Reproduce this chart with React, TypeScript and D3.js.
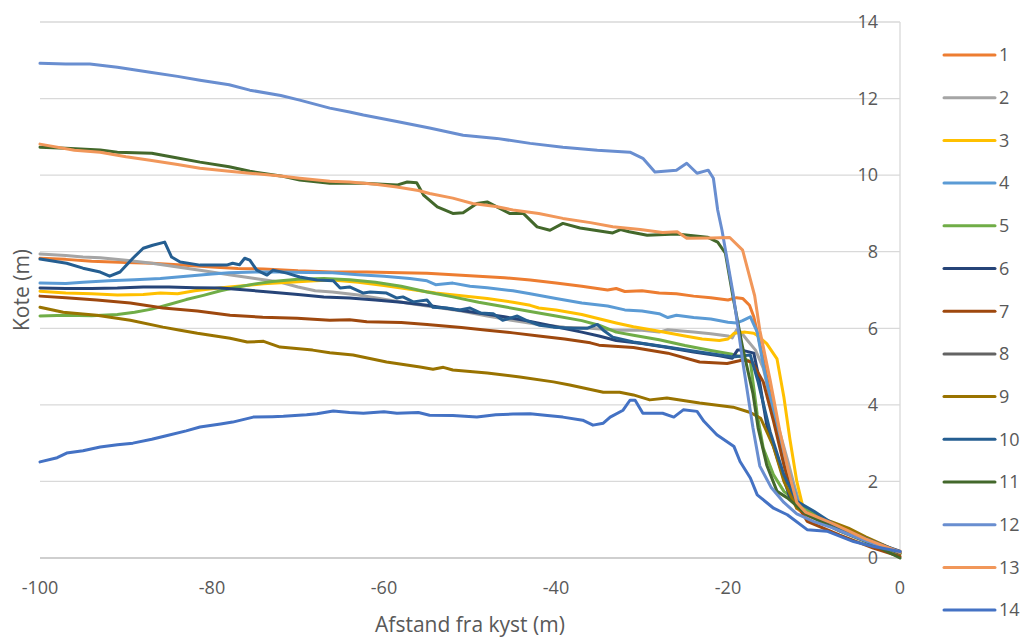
import React from "react";
import * as d3 from "d3";

// Terrain profiles: distance from coast (m) vs. elevation (m)
type Pt = [number, number];

const profile1: Pt[] = [[-100,7.83],[-97,7.8],[-94,7.75],[-90,7.72],[-87,7.7],[-84,7.66],[-80,7.6],[-77,7.56],[-74,7.55],[-70,7.5],[-66,7.47],[-62,7.47],[-58,7.45],[-55,7.44],[-52,7.4],[-49,7.36],[-46,7.32],[-43,7.26],[-40,7.18],[-37,7.1],[-34,7.0],[-33,7.04],[-32,6.96],[-30,6.98],[-28,6.92],[-26,6.9],[-24,6.84],[-22,6.8],[-20,6.74],[-19,6.8],[-18.3,6.78],[-17.5,6.6],[-17,6.3],[-16,5.3],[-15,4.2],[-14,3.0],[-13,2.0],[-12,1.3],[-11,1.12],[-9,0.95],[-7,0.78],[-5,0.6],[-3,0.42],[-1,0.25],[0,0.18]];
const profile2: Pt[] = [[-100,7.94],[-97,7.9],[-95,7.86],[-93,7.84],[-90,7.78],[-87,7.7],[-84,7.6],[-81,7.5],[-78,7.4],[-75,7.3],[-72,7.2],[-70,7.08],[-68,6.98],[-66,6.95],[-63,6.87],[-60,6.76],[-57,6.65],[-54,6.55],[-51,6.45],[-48,6.32],[-45,6.2],[-42,6.1],[-39,6.03],[-36,6.0],[-33,5.95],[-30,5.95],[-28,5.9],[-27,5.96],[-24,5.9],[-22,5.86],[-20,5.8],[-19.5,5.75],[-19,5.96],[-18.5,5.9],[-17.8,5.7],[-16.8,5.43],[-15.9,4.96],[-15,4.1],[-14,3.3],[-13,2.5],[-12.3,1.9],[-11.5,1.3],[-10,1.05],[-8,0.88],[-6,0.7],[-4,0.5],[-2,0.3],[0,0.15]];
const profile3: Pt[] = [[-100,6.97],[-97,6.92],[-94,6.9],[-91,6.87],[-88,6.88],[-86,6.92],[-84,6.9],[-82,6.98],[-80,7.03],[-78,7.08],[-76,7.12],[-74,7.16],[-71,7.2],[-68,7.24],[-66,7.26],[-63,7.2],[-60,7.12],[-57,7.02],[-54,6.92],[-51,6.85],[-48,6.78],[-45,6.68],[-43,6.6],[-42,6.53],[-40,6.48],[-37,6.36],[-35,6.25],[-33,6.14],[-31,6.04],[-28,5.92],[-25,5.8],[-23,5.72],[-21,5.68],[-20,5.72],[-19.3,5.87],[-18,5.9],[-17,5.87],[-16.5,5.8],[-15.5,5.6],[-14.3,5.2],[-13.5,4.2],[-12.8,3.1],[-12,2.0],[-11.2,1.25],[-10,1.08],[-8,0.9],[-6,0.72],[-4,0.52],[-2,0.32],[0,0.15]];
const profile4: Pt[] = [[-100,7.18],[-97,7.17],[-95,7.2],[-92,7.24],[-89,7.27],[-86,7.3],[-84,7.34],[-82,7.38],[-80,7.42],[-78,7.45],[-75,7.47],[-72,7.47],[-69,7.46],[-66,7.45],[-63,7.4],[-60,7.36],[-57,7.3],[-55,7.24],[-54,7.14],[-52,7.18],[-50,7.1],[-48,7.06],[-45,6.98],[-43,6.9],[-40,6.78],[-37,6.66],[-34,6.58],[-32,6.48],[-30,6.45],[-28,6.38],[-27,6.28],[-26,6.34],[-24,6.28],[-22,6.24],[-20,6.16],[-19,6.14],[-18.3,6.2],[-17.4,6.3],[-16.6,5.9],[-15.9,5.04],[-14.7,3.74],[-13.1,2.35],[-11.6,1.3],[-10,1.08],[-8,0.9],[-6,0.7],[-4,0.5],[-2,0.3],[0,0.16]];
const profile5: Pt[] = [[-100,6.32],[-97,6.34],[-94,6.33],[-91,6.36],[-89,6.42],[-87,6.5],[-85,6.62],[-83,6.75],[-81,6.86],[-79,6.98],[-77,7.08],[-75,7.16],[-73,7.22],[-70,7.28],[-67,7.3],[-64,7.27],[-61,7.2],[-58,7.1],[-55,6.95],[-52,6.82],[-49,6.68],[-46,6.56],[-43,6.44],[-40,6.32],[-37,6.2],[-35,6.08],[-33,5.9],[-31,5.82],[-28,5.7],[-25,5.55],[-22,5.42],[-19.5,5.32],[-18.5,5.25],[-17.4,5.13],[-16.6,3.74],[-15.9,2.87],[-14.7,2.17],[-13.5,1.74],[-12,1.48],[-10,1.15],[-8,0.92],[-6,0.72],[-4,0.5],[-2,0.28],[0,0.1]];
const profile6: Pt[] = [[-100,7.05],[-97,7.04],[-94,7.04],[-91,7.05],[-88,7.08],[-85,7.08],[-82,7.06],[-79,7.05],[-76,7.0],[-73,6.94],[-70,6.88],[-67,6.82],[-64,6.79],[-61,6.74],[-58,6.68],[-55,6.6],[-52,6.5],[-49,6.4],[-46,6.3],[-43,6.18],[-40,6.04],[-37,5.9],[-35,5.8],[-33,5.68],[-30,5.6],[-27,5.5],[-24,5.38],[-21,5.28],[-19.5,5.22],[-18.9,5.43],[-18.4,5.43],[-17,5.35],[-16.4,4.7],[-15.5,3.48],[-13.9,2.35],[-12.8,1.57],[-10.8,1.13],[-8,0.9],[-6,0.7],[-3,0.38],[0,0.13]];
const profile7: Pt[] = [[-100,6.84],[-97,6.8],[-93.4,6.74],[-89.5,6.66],[-85.7,6.53],[-81.7,6.45],[-77.9,6.34],[-74.1,6.29],[-70.1,6.26],[-66.3,6.21],[-64,6.22],[-62,6.17],[-58,6.15],[-55,6.1],[-51,6.02],[-48,5.95],[-45,5.88],[-42,5.8],[-39,5.72],[-36,5.62],[-35,5.56],[-31,5.5],[-27,5.35],[-23.3,5.12],[-20.1,5.08],[-18.3,5.17],[-17.2,5.12],[-15.9,4.6],[-14.7,3.57],[-13.5,2.43],[-12.4,1.57],[-10.8,0.96],[-7,0.6],[-3.1,0.26],[0,0.04]];
const profile8: Pt[] = [];
const profile9: Pt[] = [[-100,6.55],[-97.3,6.42],[-93.4,6.34],[-89.5,6.21],[-85.7,6.03],[-83.7,5.95],[-81.7,5.87],[-77.9,5.74],[-75.9,5.64],[-74,5.66],[-72.1,5.51],[-68.3,5.43],[-66.3,5.36],[-63.6,5.3],[-59.7,5.12],[-55.8,4.99],[-54.3,4.93],[-53.1,4.98],[-52,4.91],[-48,4.83],[-44.2,4.73],[-40.3,4.6],[-38.4,4.52],[-34.5,4.33],[-32.6,4.33],[-31,4.26],[-29.1,4.13],[-27.1,4.18],[-23.3,4.05],[-19.4,3.94],[-17.4,3.8],[-16.2,3.65],[-14.7,2.9],[-13.5,2.0],[-12,1.3],[-10,1.1],[-8,0.95],[-6,0.78],[-4,0.55],[-2,0.35],[0,0.13]];
const profile10: Pt[] = [[-100,7.81],[-96.9,7.7],[-95,7.57],[-93,7.47],[-91.9,7.36],[-90.7,7.47],[-89.2,7.83],[-88,8.09],[-86.9,8.17],[-85.5,8.25],[-84.7,7.86],[-83.7,7.73],[-81.4,7.65],[-78.3,7.65],[-77.6,7.7],[-76.8,7.66],[-76.2,7.83],[-75.6,7.78],[-74.8,7.52],[-73.6,7.39],[-72.9,7.52],[-71.3,7.44],[-69.8,7.34],[-67.8,7.26],[-65.9,7.24],[-65.1,7.05],[-64,7.08],[-62.4,6.92],[-61.6,6.95],[-59.7,6.92],[-58.5,6.79],[-57.8,6.82],[-56.6,6.69],[-55,6.74],[-54.3,6.55],[-52.7,6.53],[-51.2,6.48],[-50,6.53],[-48.8,6.4],[-47.3,6.38],[-46.2,6.21],[-44.5,6.32],[-43.4,6.2],[-41.9,6.08],[-40.3,6.03],[-38,6.0],[-36.4,6.0],[-35.2,6.1],[-34.5,5.95],[-33.4,5.77],[-31,5.64],[-27.1,5.51],[-23.3,5.38],[-19.4,5.25],[-18.3,5.28],[-17.4,5.3],[-16.5,4.6],[-15.1,3.3],[-13.5,2.17],[-12,1.48],[-10,1.22],[-7,0.78],[-3.1,0.43],[0,0.17]];
const profile11: Pt[] = [[-100,10.73],[-97,10.7],[-93,10.66],[-91,10.6],[-87,10.57],[-84,10.45],[-81.4,10.34],[-78,10.22],[-75.6,10.1],[-72,9.98],[-69.8,9.87],[-66.3,9.79],[-62.4,9.79],[-58.5,9.74],[-57.3,9.82],[-56.2,9.8],[-55.4,9.48],[-53.8,9.17],[-52,9.0],[-50.8,9.02],[-49.2,9.26],[-48,9.3],[-45.4,9.0],[-43.8,9.0],[-42.2,8.65],[-40.7,8.56],[-39.2,8.74],[-37.2,8.62],[-33.4,8.49],[-32.5,8.58],[-31.5,8.52],[-29.4,8.43],[-26,8.46],[-22.4,8.38],[-21.2,8.25],[-20.3,7.96],[-19.4,6.8],[-18.3,5.5],[-17.1,4.3],[-16.5,3.4],[-15.5,2.43],[-14.3,1.74],[-13.1,1.57],[-10.8,1.13],[-7,0.7],[-3.1,0.35],[0,0.0]];
const profile12: Pt[] = [[-100,12.92],[-97,12.9],[-94.2,12.9],[-91,12.82],[-87.2,12.69],[-84,12.58],[-81.4,12.48],[-78,12.36],[-75.6,12.22],[-72,12.08],[-69.8,11.96],[-66.3,11.75],[-64,11.65],[-62.4,11.57],[-58.5,11.4],[-54.7,11.23],[-50.8,11.04],[-46.9,10.96],[-43,10.83],[-39.2,10.73],[-35.2,10.65],[-31.4,10.6],[-29.9,10.44],[-28.5,10.08],[-26,10.13],[-24.8,10.31],[-23.6,10.05],[-22.3,10.13],[-21.7,9.92],[-21.2,9.09],[-20.7,8.56],[-19.4,6.9],[-18.2,5.0],[-17.1,3.4],[-16.3,2.4],[-15,1.85],[-13.5,1.45],[-12,1.15],[-10,0.95],[-8,0.8],[-6,0.62],[-4,0.45],[-2,0.3],[0,0.15]];
const profile13: Pt[] = [[-100,10.81],[-96,10.65],[-93,10.6],[-90,10.48],[-87.2,10.39],[-84,10.28],[-81.4,10.18],[-78,10.1],[-75.6,10.05],[-72,9.98],[-69.8,9.92],[-66.3,9.84],[-64,9.82],[-61,9.76],[-58.5,9.69],[-56,9.6],[-54.7,9.52],[-52,9.4],[-49.7,9.26],[-47,9.18],[-45,9.09],[-42,9.0],[-39.2,8.87],[-36,8.76],[-33.4,8.65],[-30.2,8.58],[-27.6,8.5],[-25.9,8.52],[-24.8,8.35],[-22,8.36],[-19.8,8.37],[-18.3,8.04],[-16.9,6.85],[-16.3,5.95],[-15.1,4.65],[-14,3.34],[-13,2.3],[-12,1.45],[-11,1.2],[-8,0.92],[-4,0.5],[0,0.15]];
const profile14: Pt[] = [[-100,2.51],[-98,2.62],[-96.9,2.74],[-95,2.8],[-93,2.9],[-91,2.96],[-89.2,3.0],[-87,3.1],[-85.2,3.2],[-83,3.32],[-81.4,3.42],[-79,3.5],[-77.6,3.55],[-75.2,3.68],[-73,3.69],[-71.7,3.7],[-69,3.74],[-67.8,3.77],[-65.9,3.84],[-64,3.8],[-62.4,3.78],[-60,3.82],[-58.5,3.78],[-56,3.8],[-54.7,3.73],[-52,3.72],[-49.2,3.68],[-47,3.74],[-45,3.76],[-43,3.77],[-41,3.72],[-39.2,3.68],[-36.9,3.6],[-35.7,3.47],[-34.5,3.52],[-33.7,3.68],[-32.2,3.86],[-31.4,4.12],[-30.8,4.12],[-29.9,3.78],[-27.6,3.78],[-26.3,3.68],[-25.2,3.87],[-23.6,3.83],[-22.8,3.57],[-21.3,3.22],[-19.3,2.91],[-18.6,2.52],[-17.4,2.09],[-16.6,1.65],[-14.7,1.3],[-13.1,1.13],[-10.8,0.74],[-8.5,0.7],[-5.4,0.43],[-3.1,0.3],[0,0.17]];

const seriesNames = ["1","2","3","4","5","6","7","8","9","10","11","12","13","14"];
const seriesColors = ["#ED7D31","#A5A5A5","#FFC000","#5B9BD5","#70AD47","#264478","#9E480E","#636363","#997300","#255E91","#43682B","#698ED0","#F1975A","#4472C4"];
const profiles: Pt[][] = [profile1,profile2,profile3,profile4,profile5,profile6,profile7,profile8,profile9,profile10,profile11,profile12,profile13,profile14];

const xTicks = [-100, -80, -60, -40, -20, 0];
const yTicks = [0, 2, 4, 6, 8, 10, 12, 14];

const W = 1024, H = 637;
const FONT = "'Open Sans', 'Noto Sans', sans-serif";
const TXT = "#595959";

export default function App() {
  const x = d3.scaleLinear().domain([-100, 0]).range([40, 900]);
  const y = d3.scaleLinear().domain([0, 14]).range([558, 22]);
  const line = d3.line<Pt>().x(d => x(d[0])).y(d => y(d[1]));

  const legendY0 = 55, legendStep = 42.7;

  return (
    <svg width={W} height={H} style={{ position: "fixed", left: 0, top: 0, background: "#fff" }} fontFamily={FONT}>
      <rect width={W} height={H} fill="#fff" />
      {yTicks.map(t => (
        <line key={"g" + t} x1={x(-100)} x2={x(0)} y1={y(t)} y2={y(t)}
          stroke={t === 0 ? "#BFBFBF" : "#D9D9D9"} strokeWidth={1.3} />
      ))}
      <line x1={x(0)} x2={x(0)} y1={y(14)} y2={y(0)} stroke="#D9D9D9" strokeWidth={1.3} />
      {yTicks.map(t => (
        <text key={"yl" + t} x={878} y={y(t)} dy="0.35em" textAnchor="end" fontSize={18} fill={TXT}>{t}</text>
      ))}
      {xTicks.map(t => (
        <text key={"xl" + t} x={x(t)} y={588} dy="0.35em" textAnchor="middle" fontSize={18} fill={TXT}>{t}</text>
      ))}
      <text x={470} y={625} dy="0.35em" textAnchor="middle" fontSize={21} fill={TXT}>Afstand fra kyst (m)</text>
      <text transform={`translate(22,290) rotate(-90)`} dy="0.35em" textAnchor="middle" fontSize={21} fill={TXT}>Kote (m)</text>
      <g fill="none" strokeWidth={3} strokeLinejoin="round" strokeLinecap="round">
        {profiles.map((p, i) => p.length ? (
          <path key={"s" + i} d={line(p) || ""} stroke={seriesColors[i]} />
        ) : null)}
      </g>
      {seriesNames.map((n, i) => {
        const ly = legendY0 + i * legendStep;
        return (
          <g key={"lg" + n}>
            <line x1={944} x2={995} y1={ly} y2={ly} stroke={seriesColors[i]} strokeWidth={3} strokeLinecap="round" />
            <text x={999} y={ly} dy="0.35em" fontSize={18} fill={TXT}>{n}</text>
          </g>
        );
      })}
    </svg>
  );
}
